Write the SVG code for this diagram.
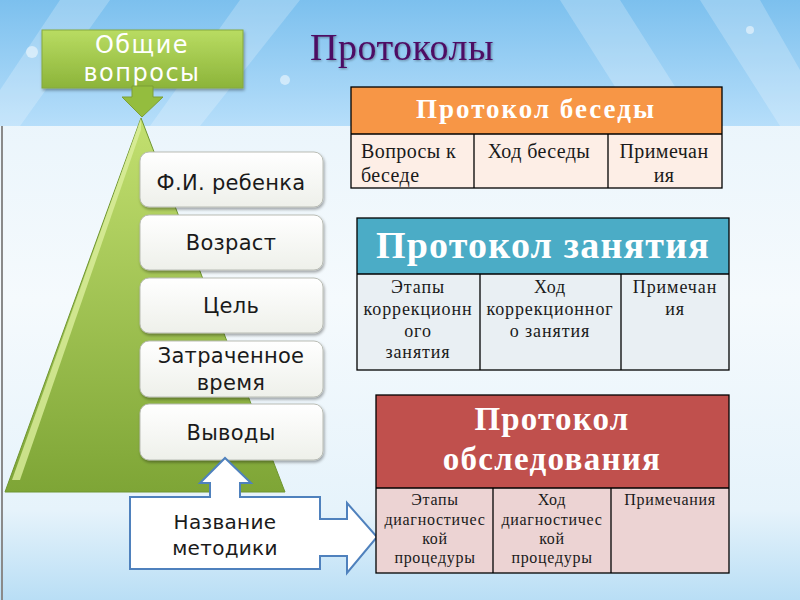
<svg xmlns="http://www.w3.org/2000/svg" width="800" height="600" viewBox="0 0 800 600">
<defs>
<linearGradient id="sky" x1="0" y1="0" x2="0" y2="1">
<stop offset="0" stop-color="#7cc0ee"/><stop offset="1" stop-color="#b6defa"/>
</linearGradient>
<linearGradient id="low" x1="0" y1="0" x2="0" y2="1">
<stop offset="0" stop-color="#e4f2fb"/><stop offset="0.5" stop-color="#f5fafd"/><stop offset="0.85" stop-color="#e6f3fb"/><stop offset="1" stop-color="#b9def5"/>
</linearGradient>
<linearGradient id="greenBox" x1="0" y1="0" x2="0" y2="1">
<stop offset="0" stop-color="#b9dc62"/><stop offset="1" stop-color="#8cb43a"/>
</linearGradient>
<linearGradient id="tri" x1="0" y1="0" x2="0" y2="1">
<stop offset="0" stop-color="#c3e070"/><stop offset="1" stop-color="#7ea536"/>
</linearGradient>
<linearGradient id="card" x1="0" y1="0" x2="0" y2="1">
<stop offset="0" stop-color="#ffffff"/><stop offset="1" stop-color="#eef0ea"/>
</linearGradient>
<filter id="sh" x="-10%" y="-10%" width="120%" height="130%">
<feDropShadow dx="1" dy="2" stdDeviation="1.5" flood-color="#000" flood-opacity="0.35"/>
</filter>
<filter id="tsh" x="-5%" y="-5%" width="110%" height="120%">
<feDropShadow dx="1" dy="1" stdDeviation="0.8" flood-color="#000" flood-opacity="0.35"/>
</filter>
</defs>
<style>
.card{fill:url(#card);stroke:#b9bcb4;stroke-width:1}
.ct{font-family:"DejaVu Sans",sans-serif;font-size:21px;letter-spacing:0.3px;fill:#1a1a1a;text-anchor:middle}
.hd{font-family:"Liberation Serif",serif;font-weight:bold;fill:#fff;text-anchor:middle}
.bd{font-family:"Liberation Serif",serif;fill:#1a1a1a;text-anchor:middle}
.l{text-anchor:start}
.grid{stroke:#000;stroke-width:1.3;fill:none}
</style>

<!-- background -->
<rect x="0" y="0" width="800" height="600" fill="url(#low)"/>
<rect x="0" y="0" width="800" height="126" fill="url(#sky)"/>
<g fill="#ffffff" opacity="0.22">
<polygon points="60,0 110,0 20,126 0,126 0,90"/>
<polygon points="240,0 300,0 200,126 150,126"/>
<polygon points="560,0 620,0 700,126 640,126"/>
<polygon points="700,0 760,0 800,70 800,126 780,126"/>
</g>
<g fill="#ffffff" opacity="0.5">
<circle cx="32" cy="52" r="6"/><circle cx="285" cy="80" r="5"/><circle cx="750" cy="30" r="4"/>
</g>
<line x1="2" y1="126" x2="2" y2="600" stroke="#8a8a8a" stroke-width="2"/>

<!-- title -->
<text x="402" y="60" font-family="Liberation Serif,serif" font-size="38" letter-spacing="0.5" fill="#4e0a63" text-anchor="middle" filter="url(#tsh)">Протоколы</text>

<!-- pyramid -->
<g id="pyramid">
<polygon points="141,118 5,492 285,492" fill="url(#tri)" stroke="#6e9530" stroke-width="1"/>
<polygon points="141,118 12,480 20,480 141,130" fill="#dcef9e" opacity="0.8"/>
</g>

<!-- top green box -->
<g id="obshchie">
<rect x="42" y="30" width="201" height="58" fill="url(#greenBox)" stroke="#86a93e" stroke-width="1" filter="url(#sh)"/>
<text x="142" y="53" font-family="DejaVu Sans,sans-serif" font-size="24" fill="#fff" text-anchor="middle" letter-spacing="1.5">Общие</text>
<text x="142" y="81" font-family="DejaVu Sans,sans-serif" font-size="24" fill="#fff" text-anchor="middle" letter-spacing="1.5">вопросы</text>
<polygon points="132,86 153,86 153,97 163,97 142,117 122,97 132,97" fill="#94bd3e" stroke="#7c9f36" stroke-width="1"/>
</g>

<!-- cards -->
<g id="card1"><rect class="card" x="140" y="152" width="183" height="55" rx="9" filter="url(#sh)"/><text class="ct" x="231" y="190">Ф.И. ребенка</text></g>
<g id="card2"><rect class="card" x="140" y="215" width="183" height="55" rx="9" filter="url(#sh)"/><text class="ct" x="231" y="250">Возраст</text></g>
<g id="card3"><rect class="card" x="140" y="278" width="183" height="55" rx="9" filter="url(#sh)"/><text class="ct" x="231" y="313">Цель</text></g>
<g id="card4"><rect class="card" x="140" y="341" width="183" height="56" rx="9" filter="url(#sh)"/><text class="ct" x="231" y="363">Затраченное</text><text class="ct" x="231" y="390">время</text></g>
<g id="card5"><rect class="card" x="140" y="404" width="183" height="56" rx="9" filter="url(#sh)"/><text class="ct" x="231" y="440">Выводы</text></g>

<!-- callout -->
<g id="metodiki">
<path d="M130,497 H210 V483 H200 L225,458 L251,483 H240 V497 H320 V519 H347 V503 L377,537 L347,573 V556 H320 V569 H130 Z" fill="#ffffff" stroke="#4f81bd" stroke-width="2" stroke-linejoin="miter"/>
<text class="ct" x="225" y="529" style="font-size:20px">Название</text>
<text class="ct" x="225" y="555" style="font-size:20px">методики</text>
</g>

<!-- table 1 -->
<g id="table-besedy">
<rect x="351" y="87" width="371" height="47" fill="#f79646"/>
<rect x="351" y="134" width="371" height="54" fill="#fdeee6"/>
<text class="hd" x="536" y="118" font-size="27" letter-spacing="2">Протокол беседы</text>
<rect class="grid" x="351" y="87" width="371" height="101"/>
<line class="grid" x1="351" y1="134" x2="722" y2="134"/>
<line class="grid" x1="474" y1="134" x2="474" y2="188"/>
<line class="grid" x1="608" y1="134" x2="608" y2="188"/>
<g class="bd" font-size="20" letter-spacing="0.4">
<text class="l" x="361" y="158">Вопросы к</text>
<text class="l" x="361" y="182">беседе</text>
<text x="539" y="158">Ход беседы</text>
<text x="664" y="158">Примечан</text>
<text x="664" y="182">ия</text>
</g>
</g>

<!-- table 2 -->
<g id="table-zanyatiya">
<rect x="357" y="218" width="372" height="56" fill="#4bacc6"/>
<rect x="357" y="274" width="372" height="96" fill="#e9eff3"/>
<text class="hd" x="543" y="258" font-size="38" letter-spacing="1.2">Протокол занятия</text>
<rect class="grid" x="357" y="218" width="372" height="152"/>
<line class="grid" x1="357" y1="274" x2="729" y2="274"/>
<line class="grid" x1="480" y1="274" x2="480" y2="370"/>
<line class="grid" x1="621" y1="274" x2="621" y2="370"/>
<g class="bd" font-size="18" letter-spacing="0.9">
<text x="418" y="293">Этапы</text>
<text x="418" y="315">коррекционн</text>
<text x="418" y="337">ого</text>
<text x="418" y="358">занятия</text>
<text x="550" y="293">Ход</text>
<text x="550" y="315">коррекционног</text>
<text x="550" y="337">о занятия</text>
<text x="675" y="293">Примечан</text>
<text x="675" y="315">ия</text>
</g>
</g>

<!-- table 3 -->
<g id="table-obsledovaniya">
<rect x="376" y="395" width="353" height="93" fill="#c0504d"/>
<rect x="376" y="488" width="353" height="85" fill="#ecd3d3"/>
<text class="hd" x="552" y="430" font-size="33" letter-spacing="1.2">Протокол</text>
<text class="hd" x="552" y="470" font-size="33" letter-spacing="1.3">обследования</text>
<rect class="grid" x="376" y="395" width="353" height="178"/>
<line class="grid" x1="376" y1="488" x2="729" y2="488"/>
<line class="grid" x1="493" y1="488" x2="493" y2="573"/>
<line class="grid" x1="611" y1="488" x2="611" y2="573"/>
<g class="bd" font-size="16" letter-spacing="0.7">
<text x="435" y="505">Этапы</text>
<text x="435" y="525">диагностичес</text>
<text x="435" y="544">кой</text>
<text x="435" y="563">процедуры</text>
<text x="552" y="505">Ход</text>
<text x="552" y="525">диагностичес</text>
<text x="552" y="544">кой</text>
<text x="552" y="563">процедуры</text>
<text x="670" y="505">Примечания</text>
</g>
</g>
</svg>
